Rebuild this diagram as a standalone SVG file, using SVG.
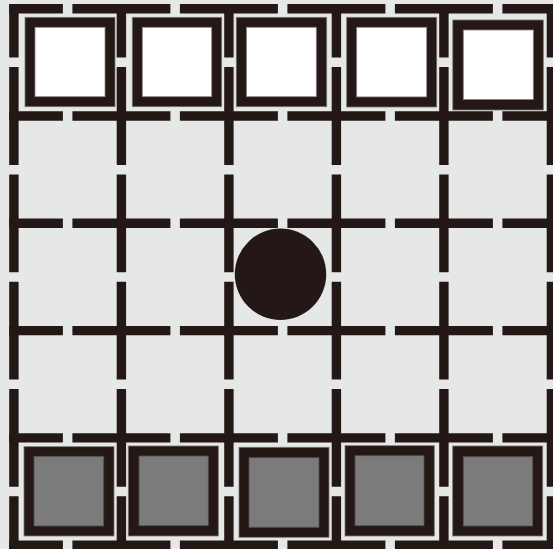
<svg xmlns="http://www.w3.org/2000/svg" width="553" height="549" viewBox="0 0 553 549">
<style>
.h{fill:none;stroke:#231815;stroke-width:9.4;stroke-dasharray:98 9.5;stroke-dashoffset:44.3}
.v{fill:none;stroke:#231815;stroke-width:9.4;stroke-dasharray:97.8 9.5;stroke-dashoffset:44.2}
.frame{fill:#231815;stroke:#7a7574;stroke-width:0.8}
.w{fill:#ffffff;stroke:#8a8685;stroke-width:0.8}
.g{fill:#7b7b7b;stroke:#55504f;stroke-width:0.8}
.stone{fill:#231815}
</style>
<rect x="0" y="0" width="553" height="549" fill="#e6e8e7"/>
<g id="grid">
<path class="h" d="M9.2 8.7H570"/>
<path class="h" d="M9.2 116H570"/>
<path class="h" d="M9.2 223.3H570"/>
<path class="h" d="M9.2 330.6H570"/>
<path class="h" d="M9.2 437.9H570"/>
<path class="h" d="M9.2 545.2H570"/>
<path class="v" d="M13.9 4V570"/>
<path class="v" d="M121.4 4V570"/>
<path class="v" d="M228.9 4V570"/>
<path class="v" d="M336.4 4V570"/>
<path class="v" d="M443.9 4V570"/>
<path class="v" d="M551.4 4V570"/>
</g>
<g id="top1"><rect class="frame" x="25" y="17.3" width="90" height="89.4"/><rect class="w" x="35" y="27.3" width="70" height="69.4"/></g>
<g id="top2"><rect class="frame" x="132.3" y="17.3" width="89.4" height="89.4"/><rect class="w" x="142.3" y="27.3" width="69.4" height="69.4"/></g>
<g id="top3"><rect class="frame" x="236.3" y="17.3" width="90.4" height="89.4"/><rect class="w" x="246.5" y="27.3" width="69.8" height="69.4"/></g>
<g id="top4"><rect class="frame" x="346.7" y="17.3" width="90" height="89.7"/><rect class="w" x="356.7" y="27.3" width="70" height="69.6"/></g>
<g id="top5"><rect class="frame" x="452.8" y="20" width="90.5" height="90"/><rect class="w" x="463.3" y="30" width="70" height="69.4"/></g>
<g id="bottom1"><rect class="frame" x="24" y="446.7" width="90" height="89.3"/><rect class="g" x="34" y="456.3" width="69.7" height="69.7"/></g>
<g id="bottom2"><rect class="frame" x="128.3" y="446" width="90" height="90"/><rect class="g" x="139" y="456" width="69.3" height="69.7"/></g>
<g id="bottom3"><rect class="frame" x="239" y="447.3" width="90" height="90"/><rect class="g" x="249" y="457.7" width="70" height="69.6"/></g>
<g id="bottom4"><rect class="frame" x="345" y="445.7" width="89.3" height="90.3"/><rect class="g" x="355" y="455.7" width="69" height="70"/></g>
<g id="bottom5"><rect class="frame" x="452.7" y="446" width="90" height="90"/><rect class="g" x="463.3" y="456.7" width="69.4" height="69.3"/></g>
<g id="stone"><circle class="stone" cx="280.5" cy="274.2" r="45.7"/></g>
</svg>
